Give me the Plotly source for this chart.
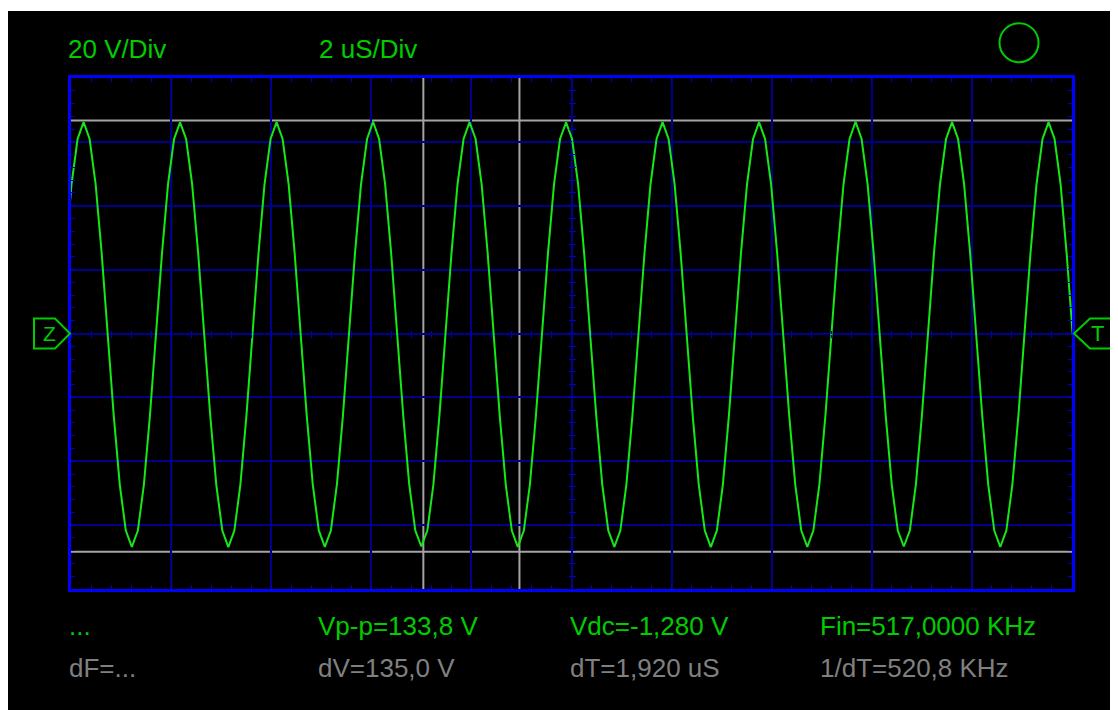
import plotly.graph_objects as go

# ---------------- data ----------------
# sampled trace: first sample time and sample interval (µs)
time_start_us = -0.11
sample_step_us = 0.1205
volts = [
    25.1, 46.7, 60.9, 66.2, 60.9, 46.7, 25.1, -0.3, -25.7, -47.3, -61.7, -66.8, -61.7, -47.3, -25.7, -0.3,
    25.1, 46.7, 60.9, 66.1, 60.9, 46.7, 25.1, -0.3, -25.7, -47.3, -61.7, -66.9, -61.7, -47.3, -25.7, -0.3,
    25.1, 46.7, 60.9, 66.2, 60.9, 46.7, 25.1, -0.3, -25.7, -47.3, -61.7, -66.8, -61.7, -47.3, -25.7, -0.3,
    25.1, 46.7, 60.9, 66.3, 60.9, 46.7, 25.1, -0.3, -25.7, -47.3, -61.7, -66.7, -61.7, -47.3, -25.7, -0.3,
    25.1, 46.7, 60.9, 66.2, 60.9, 46.7, 25.1, -0.3, -25.7, -47.3, -61.7, -66.8, -61.7, -47.3, -25.7, -0.3,
    25.1, 46.7, 60.9, 66.1, 60.9, 46.7, 25.1, -0.3, -25.7, -47.3, -61.7, -66.8, -61.7, -47.3, -25.7, -0.3,
    25.1, 46.7, 60.9, 66.2, 60.9, 46.7, 25.1, -0.3, -25.7, -47.3, -61.7, -66.9, -61.7, -47.3, -25.7, -0.3,
    25.1, 46.7, 60.9, 66.2, 60.9, 46.7, 25.1, -0.3, -25.7, -47.3, -61.7, -66.8, -61.7, -47.3, -25.7, -0.3,
    25.1, 46.7, 60.9, 66.3, 60.9, 46.7, 25.1, -0.3, -25.7, -47.3, -61.7, -66.7, -61.7, -47.3, -25.7, -0.3,
    25.1, 46.7, 60.9, 66.2, 60.9, 46.7, 25.1, -0.3, -25.7, -47.3, -61.7, -66.8, -61.7, -47.3, -25.7, -0.3,
    25.1, 46.7, 60.9, 66.2, 60.9, 46.7, 25.1, -0.3,
]

time_range_us = [0, 20]
volt_range = [-80, 80]
time_per_div = 2
volts_per_div = 20

cursor_volts = [66.7, -68.3]      # grey horizontal cursors
cursor_times = [7.04, 8.96]       # grey vertical cursors
trigger_time = 2.0                # teal marker line

header_labels = ["20 V/Div", "2 uS/Div"]
row1_labels = ["...", "Vp-p=133,8 V", "Vdc=-1,280 V", "Fin=517,0000 KHz"]
row2_labels = ["dF=...", "dV=135,0 V", "dT=1,920 uS", "1/dT=520,8 KHz"]
marker_labels = ["Z", "T"]

# ---------------- styling ----------------
W, H = 1110, 702
OFF = 8  # page offset of the figure (body margin)
L, T, PW, PH = 63, 70, 1001, 511
R = W - L - PW
B = H - T - PH

GREEN_TRACE = "#16e816"
GREEN_TEXT = "#00cc00"
GREY_TEXT = "#808080"
GREY_CURSOR = "#a4a4a4"
TEAL = "#1a8c8c"
GRID = "#00008c"
FRAME = "#0000ff"
TICK = "#0000cc"
FONT = "Liberation Sans, Arial, sans-serif"
FS = 26


def px(page_x):
    return (page_x - OFF - L) / PW


def py(page_y):
    return (T + PH - (page_y - OFF)) / PH


fig = go.Figure()

fig.add_trace(go.Scatter(
    y=volts, x0=time_start_us, dx=sample_step_us, mode="lines",
    line=dict(color=GREEN_TRACE, width=2), hoverinfo="skip", showlegend=False,
))
# dummy traces to activate the centre-cross tick axes
for xa, ya in [("x2", "y"), ("x3", "y"), ("x", "y2"), ("x", "y3")]:
    fig.add_trace(go.Scatter(x=[None], y=[None], xaxis=xa, yaxis=ya,
                             showlegend=False, hoverinfo="skip"))

minor_x = dict(dtick=time_per_div / 5, tick0=0, ticks="inside", ticklen=4,
               tickcolor=TICK, tickwidth=1, showgrid=False)
minor_y = dict(dtick=volts_per_div / 5, tick0=0, ticks="inside", ticklen=4,
               tickcolor=TICK, tickwidth=1, showgrid=False)

fig.update_layout(
    width=W, height=H,
    margin=dict(l=L, r=R, t=T, b=B, pad=0),
    paper_bgcolor="black", plot_bgcolor="black",
    showlegend=False, hovermode=False,
    xaxis=dict(range=time_range_us, dtick=time_per_div, tick0=0,
               showgrid=True, gridcolor=GRID, gridwidth=2, zeroline=False,
               showticklabels=False, ticks="inside", ticklen=4, tickcolor=TICK,
               minor=minor_x, showline=True, linecolor=FRAME, linewidth=3,
               mirror="ticks", fixedrange=True),
    yaxis=dict(range=volt_range, dtick=volts_per_div, tick0=0,
               showgrid=True, gridcolor=GRID, gridwidth=2, zeroline=False,
               showticklabels=False, ticks="inside", ticklen=4, tickcolor=TICK,
               minor=minor_y, showline=True, linecolor=FRAME, linewidth=3,
               mirror="ticks", fixedrange=True),
)

for name, side_ticks in [("xaxis2", "outside"), ("xaxis3", "inside")]:
    fig.layout[name] = dict(
        overlaying="x", anchor="free", position=0.5, side="bottom",
        range=time_range_us, dtick=time_per_div, tick0=0,
        showgrid=False, zeroline=False, showline=False, showticklabels=False,
        ticks=side_ticks, ticklen=3, tickcolor=TICK, tickwidth=1,
        minor=dict(dtick=time_per_div / 5, tick0=0, ticks=side_ticks, ticklen=3,
                   tickcolor=TICK, tickwidth=1, showgrid=False),
        fixedrange=True)
for name, side_ticks in [("yaxis2", "outside"), ("yaxis3", "inside")]:
    fig.layout[name] = dict(
        overlaying="y", anchor="free", position=0.5, side="left",
        range=volt_range, dtick=volts_per_div, tick0=0,
        showgrid=False, zeroline=False, showline=False, showticklabels=False,
        ticks=side_ticks, ticklen=3, tickcolor=TICK, tickwidth=1,
        minor=dict(dtick=volts_per_div / 5, tick0=0, ticks=side_ticks, ticklen=3,
                   tickcolor=TICK, tickwidth=1, showgrid=False),
        fixedrange=True)

shapes = []
# white strip at the very top of the page
shapes.append(dict(type="rect", xref="paper", yref="paper",
                   x0=px(0), x1=px(1118), y0=py(11), y1=py(OFF),
                   fillcolor="white", line=dict(width=0), layer="below"))
# cursors
for v in cursor_volts:
    shapes.append(dict(type="line", xref="paper", yref="y", x0=0, x1=1, y0=v, y1=v,
                       line=dict(color=GREY_CURSOR, width=2), layer="between"))
for t in cursor_times:
    shapes.append(dict(type="line", xref="x", yref="paper", x0=t, x1=t, y0=0, y1=1,
                       line=dict(color=GREY_CURSOR, width=2), layer="between"))
shapes.append(dict(type="line", xref="x", yref="paper", x0=trigger_time, x1=trigger_time,
                   y0=0, y1=1, line=dict(color=TEAL, width=2), layer="between"))
# Z / T pointer markers (paper-referenced so they are not clipped)
shapes.append(dict(type="path", xref="paper", yref="paper", xsizemode="pixel",
                   ysizemode="pixel", xanchor=0, yanchor=0.5,
                   path="M -1,0 L -16,15 L -37,15 L -37,-15 L -16,-15 Z",
                   line=dict(color=GREEN_TEXT, width=2), layer="above"))
shapes.append(dict(type="path", xref="paper", yref="paper", xsizemode="pixel",
                   ysizemode="pixel", xanchor=1, yanchor=0.5,
                   path="M 2,0 L 18,15 L 39,15 L 39,-15 L 18,-15 Z",
                   line=dict(color=GREEN_TEXT, width=2), layer="above"))
# status circle
shapes.append(dict(type="circle", xref="paper", yref="paper", xsizemode="pixel",
                   ysizemode="pixel", xanchor=px(1019), yanchor=py(42.7),
                   x0=-19.5, x1=19.5, y0=-19.5, y1=19.5,
                   line=dict(color=GREEN_TEXT, width=2), layer="above"))
fig.update_layout(shapes=shapes)

ann = []
header_x = [66, 317]
for lab, xpage in zip(header_labels, header_x):
    ann.append(dict(text=lab, xref="paper", yref="paper", x=px(xpage), y=py(48.8),
                    xanchor="left", yanchor="middle", showarrow=False,
                    font=dict(family=FONT, size=FS, color=GREEN_TEXT)))
col_x = [67, 316, 568, 818]
for lab, xpage in zip(row1_labels, col_x):
    ann.append(dict(text=lab, xref="paper", yref="paper", x=px(xpage), y=py(625.5),
                    xanchor="left", yanchor="middle", showarrow=False,
                    font=dict(family=FONT, size=FS, color=GREEN_TEXT)))
for lab, xpage in zip(row2_labels, col_x):
    ann.append(dict(text=lab, xref="paper", yref="paper", x=px(xpage), y=py(668.3),
                    xanchor="left", yanchor="middle", showarrow=False,
                    font=dict(family=FONT, size=FS, color=GREY_TEXT)))
ann.append(dict(text=marker_labels[0], xref="paper", yref="paper", x=0, y=0.5,
                xshift=-22, xanchor="center", yanchor="middle", showarrow=False,
                font=dict(family=FONT, size=21, color=GREEN_TEXT)))
ann.append(dict(text=marker_labels[1], xref="paper", yref="paper", x=1, y=0.5,
                xshift=25, xanchor="center", yanchor="middle", showarrow=False,
                font=dict(family=FONT, size=22, color=GREEN_TEXT)))
fig.update_layout(annotations=ann)

fig.write_html("out.html")
